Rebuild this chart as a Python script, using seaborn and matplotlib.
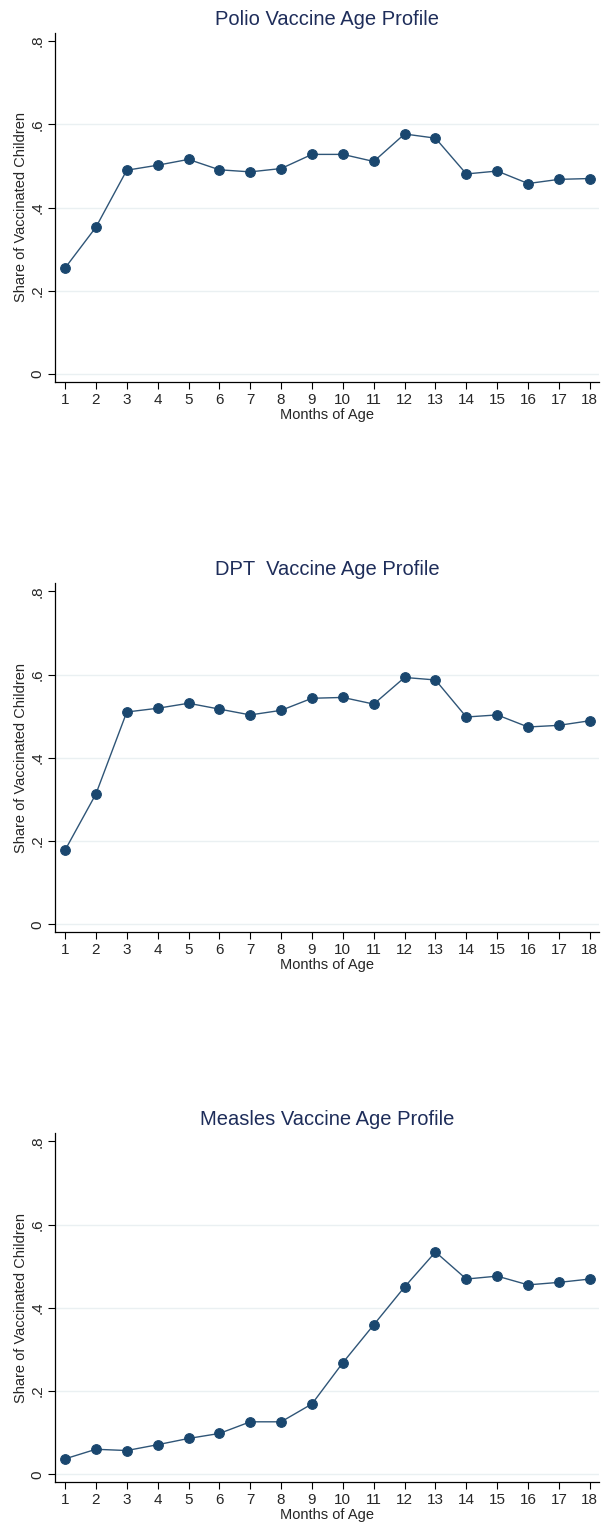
import pandas as pd
import numpy as np
import seaborn as sns
import matplotlib
matplotlib.use("Agg")
import matplotlib.pyplot as plt

months = list(range(1, 19))
polio = [0.255, 0.353, 0.490, 0.502, 0.516, 0.491, 0.486, 0.494, 0.528, 0.528, 0.511, 0.577, 0.567, 0.481, 0.488, 0.458, 0.468, 0.470]
dpt = [0.178, 0.313, 0.510, 0.519, 0.531, 0.517, 0.503, 0.514, 0.543, 0.545, 0.529, 0.593, 0.587, 0.498, 0.503, 0.474, 0.478, 0.489]
measles = [0.037, 0.060, 0.057, 0.071, 0.086, 0.098, 0.126, 0.126, 0.169, 0.268, 0.359, 0.450, 0.534, 0.469, 0.476, 0.455, 0.461, 0.469]
titles = ["Polio Vaccine Age Profile", "DPT  Vaccine Age Profile", "Measles Vaccine Age Profile"]
ytick_vals = [0, 0.2, 0.4, 0.6, 0.8]
ytick_labels = ["0", ".2", ".4", ".6", ".8"]

sns.set_style("ticks")
plt.rcParams["font.family"] = ["Liberation Sans", "DejaVu Sans"]

navy = "#1a476f"
title_col = "#1e2d5a"

fig = plt.figure(figsize=(6.01, 15.26), dpi=100)
bottoms = [0.7499, 0.3894, 0.0290]

for series, title, b in zip([polio, dpt, measles], titles, bottoms):
    ax = fig.add_axes([0.0923, b, 0.905, 0.2283])
    df = pd.DataFrame({"month": months, "share": series})
    # light horizontal grid like the Stata default scheme
    for g in [0, 0.2, 0.4, 0.6]:
        ax.axhline(g, color="#eaf0f2", lw=1.0, zorder=0)
    sns.lineplot(data=df, x="month", y="share", ax=ax, color="#2f5577", lw=1.0,
                 marker="o", markersize=7, markeredgecolor=navy, markerfacecolor=navy)
    ax.set_xlim(0.69, 18.31)
    ax.set_ylim(-0.018, 0.819)
    ax.set_xticks(months)
    ax.set_xticklabels([str(m) for m in months], fontsize=11)
    ax.set_yticks(ytick_vals)
    ax.set_yticklabels(ytick_labels, fontsize=11, rotation=90, va="center")
    ax.tick_params(axis="both", length=5, width=0.8, color="black", pad=3)
    ax.set_xlabel("Months of Age", fontsize=10.5, labelpad=1)
    ax.set_ylabel("Share of Vaccinated Children", fontsize=10.5, labelpad=2)
    ax.set_title(title, fontsize=14.5, color=title_col, pad=6)
    sns.despine(ax=ax)
    for s in ["left", "bottom"]:
        ax.spines[s].set_linewidth(0.9)
        ax.spines[s].set_color("black")

plt.savefig("out.png", dpi=100)
